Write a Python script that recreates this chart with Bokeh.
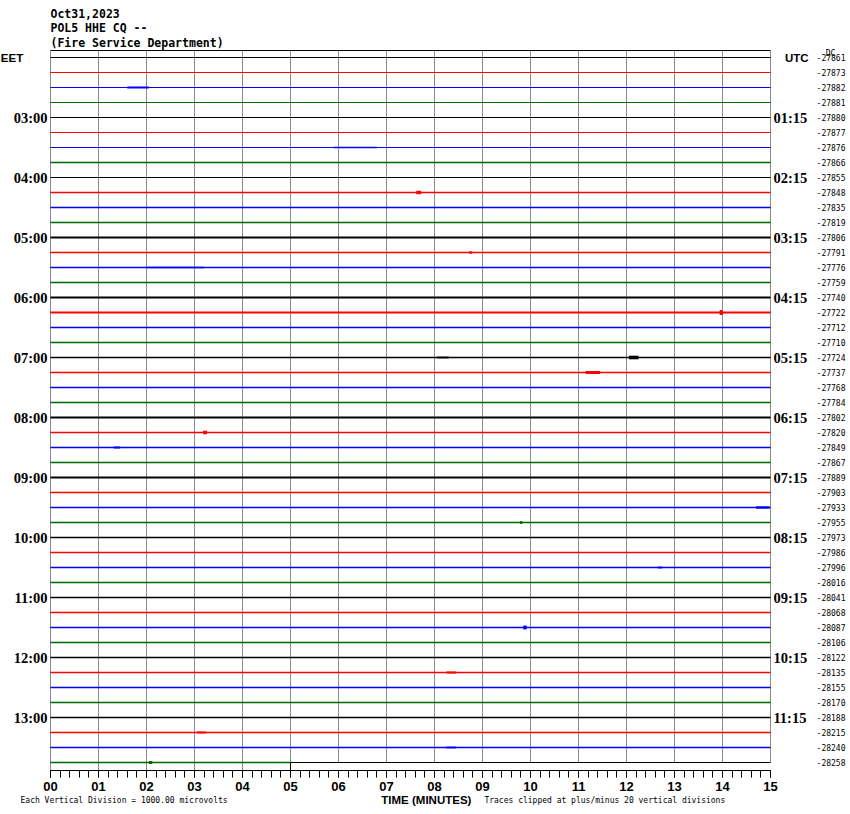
import numpy as np
from bokeh.plotting import figure
from bokeh.models import Range1d, LinearAxis, FixedTicker, ColumnDataSource
from bokeh.core.properties import value
from bokeh.embed import file_html
from bokeh.resources import INLINE

# ---------------- data ----------------
title_lines = ["Oct31,2023", "POL5 HHE CQ --", "(Fire Service Department)"]
minute_ticks = [0, 1, 2, 3, 4, 5, 6, 7, 8, 9, 10, 11, 12, 13, 14, 15]
minute_labels = ["00", "01", "02", "03", "04", "05", "06", "07",
                 "08", "09", "10", "11", "12", "13", "14", "15"]
n_traces = 48
trace_minutes = 15.0
last_trace_minutes = 5.0
trace_colors = ["#000000", "#ff0000", "#0000ff", "#006a00"]

label_traces = [4, 8, 12, 16, 20, 24, 28, 32, 36, 40, 44]
eet_labels = ["03:00", "04:00", "05:00", "06:00", "07:00", "08:00",
              "09:00", "10:00", "11:00", "12:00", "13:00"]
utc_labels = ["01:15", "02:15", "03:15", "04:15", "05:15", "06:15",
              "07:15", "08:15", "09:15", "10:15", "11:15"]

dc_values = [-27861, -27873, -27882, -27881, -27880, -27877, -27876, -27866,
             -27855, -27848, -27835, -27819, -27806, -27791, -27776, -27759,
             -27740, -27722, -27712, -27710, -27724, -27737, -27768, -27784,
             -27802, -27820, -27849, -27867, -27889, -27903, -27933, -27955,
             -27973, -27986, -27996, -28016, -28041, -28068, -28087, -28106,
             -28122, -28135, -28155, -28170, -28188, -28215, -28240, -28258]

footer_left = "Each Vertical Division = 1000.00 microvolts"
footer_axis = "TIME (MINUTES)"
footer_right = "Traces clipped at plus/minus 20 vertical divisions"

# visual background noise level of each trace (0 quiet .. 2 busy)
noise_level = [0, 0, 0, 0, 0, 0, 0, 1,
               0, 1, 1, 1, 2, 1, 1, 1,
               2, 2, 1, 1, 1, 1, 1, 1,
               2, 1, 1, 1, 2, 1, 1, 1,
               1, 1, 1, 1, 1, 1, 1, 1,
               1, 1, 1, 1, 1, 1, 1, 1]

# short bursts seen on the record: trace, start / end minute, half-amplitude (trace spacings)
event_trace = [2, 3, 4, 6, 9, 13, 14, 17, 20, 20, 21, 25, 26, 30, 31, 34, 38, 41, 45, 46, 47]
event_start = [1.6, 8.1, 9.8, 5.9, 7.62, 8.72, 2.0, 13.94, 12.05, 8.05, 11.15, 3.18, 1.32,
               14.7, 9.78, 12.65, 9.85, 8.25, 3.05, 8.25, 2.05]
event_end = [2.05, 9.6, 10.9, 6.8, 7.72, 8.78, 3.2, 14.0, 12.25, 8.3, 11.45, 3.26, 1.45,
             14.98, 9.83, 12.75, 9.92, 8.45, 3.25, 8.45, 2.12]
event_amp = [0.07, 0.035, 0.035, 0.05, 0.12, 0.09, 0.05, 0.17, 0.12, 0.06, 0.1, 0.12, 0.07,
             0.08, 0.09, 0.06, 0.13, 0.07, 0.07, 0.06, 0.1]

# ---------------- figure ----------------
FRAME_TOP = 0.4667      # top border of the record
AXIS_Y = -47.5333       # time axis baseline

p = figure(width=850, height=812,
           x_range=Range1d(-1.04167, 16.6667), y_range=Range1d(-50.3333, 3.8),
           output_backend="svg", toolbar_location=None,
           x_axis_location=None, y_axis_location=None,
           min_border_left=0, min_border_right=0, min_border_top=0, min_border_bottom=0)
p.outline_line_color = None
p.xgrid.visible = False
p.ygrid.visible = False
p.background_fill_color = "white"
p.border_fill_color = "white"

# minute grid lines
grid_bottom = [AXIS_Y if m <= last_trace_minutes else -(n_traces - 1) for m in minute_ticks]
p.segment(x0=minute_ticks, x1=minute_ticks, y0=[FRAME_TOP] * len(minute_ticks), y1=grid_bottom,
          line_color="#8a8a8a", line_width=1)

# top border and unfinished region outline
p.segment(x0=[0, last_trace_minutes, last_trace_minutes],
          x1=[trace_minutes, trace_minutes, last_trace_minutes],
          y0=[FRAME_TOP, -(n_traces - 1), -(n_traces - 1)],
          y1=[FRAME_TOP, -(n_traces - 1), AXIS_Y],
          line_color="black", line_width=1)

# traces
idx = list(range(n_traces))
tr = ColumnDataSource(dict(
    x0=[0.0] * n_traces,
    x1=[trace_minutes if i < n_traces - 1 else last_trace_minutes for i in idx],
    y=[-i for i in idx],
    color=[trace_colors[i % 4] for i in idx],
    lw=[1.0 + 0.45 * noise_level[i] for i in idx],
))
p.segment(x0="x0", x1="x1", y0="y", y1="y", line_color="color", line_width="lw", source=tr)

# bursts
ev = ColumnDataSource(dict(
    left=event_start, right=event_end,
    bottom=[-t - a for t, a in zip(event_trace, event_amp)],
    top=[-t + a for t, a in zip(event_trace, event_amp)],
    color=[trace_colors[t % 4] for t in event_trace],
))
p.quad(left="left", right="right", bottom="bottom", top="top",
       fill_color="color", line_color=None, source=ev)

# titles
p.text(x=[0, 0, 0], y=[2.933, 2.0, 1.0], text=title_lines,
       text_font=value("DejaVu Sans Mono"), text_font_size="11.5px", text_font_style="bold",
       text_align="left", text_baseline="middle", text_color="black")

# left (EET) labels
p.text(x=[-0.0625] * len(label_traces), y=[-t for t in label_traces], text=eet_labels,
       text_font=value("Liberation Serif"), text_font_size="14.5px", text_font_style="bold",
       text_align="right", text_baseline="middle", text_color="black")
p.text(x=[-1.035], y=[0], text=["EET"],
       text_font=value("Liberation Sans"), text_font_size="11.5px", text_font_style="bold",
       text_align="left", text_baseline="middle", text_color="black")

# right (UTC) labels
p.text(x=[15.06] * len(label_traces), y=[-t for t in label_traces], text=utc_labels,
       text_font=value("Liberation Serif"), text_font_size="14.5px", text_font_style="bold",
       text_align="left", text_baseline="middle", text_color="black")
p.text(x=[15.3], y=[0], text=["UTC"],
       text_font=value("Liberation Sans"), text_font_size="11.5px", text_font_style="bold",
       text_align="left", text_baseline="middle", text_color="black")

# DC offsets
p.text(x=[16.5625] * n_traces, y=[-i for i in idx], text=[str(v) for v in dc_values],
       text_font=value("DejaVu Sans Mono"), text_font_size="8px",
       text_align="right", text_baseline="middle", text_color="black")
p.text(x=[16.25], y=[0.27], text=["DC"],
       text_font=value("DejaVu Sans Mono"), text_font_size="8px",
       text_align="center", text_baseline="middle", text_color="black")

# time axis (fixed at the bottom of the record)
minor = [round(0.2 * k, 1) for k in range(0, 76)]
ax = LinearAxis(ticker=FixedTicker(ticks=minute_ticks, minor_ticks=minor), bounds=(0, 15),
                fixed_location=AXIS_Y)
ax.major_label_overrides = {m: lab for m, lab in zip(minute_ticks, minute_labels)}
ax.major_tick_out = 7
ax.major_tick_in = 0
ax.minor_tick_out = 7
ax.minor_tick_in = 0
ax.major_label_standoff = 4
ax.major_label_text_font = "Liberation Sans"
ax.major_label_text_font_style = "bold"
ax.major_label_text_font_size = "13px"
ax.major_label_text_color = "black"
ax.axis_line_color = "black"
ax.major_tick_line_color = "black"
ax.minor_tick_line_color = "black"
p.add_layout(ax, "below")

# footer texts
p.text(x=[7.83], y=[-49.53], text=[footer_axis],
       text_font=value("Liberation Sans"), text_font_size="11.5px", text_font_style="bold",
       text_align="center", text_baseline="middle", text_color="black")
p.text(x=[-0.625, 9.04], y=[-49.53, -49.53], text=[footer_left, footer_right],
       text_font=value("DejaVu Sans Mono"), text_font_size="8px",
       text_align="left", text_baseline="middle", text_color="black")

open("out.html", "w").write(file_html(p, INLINE))
